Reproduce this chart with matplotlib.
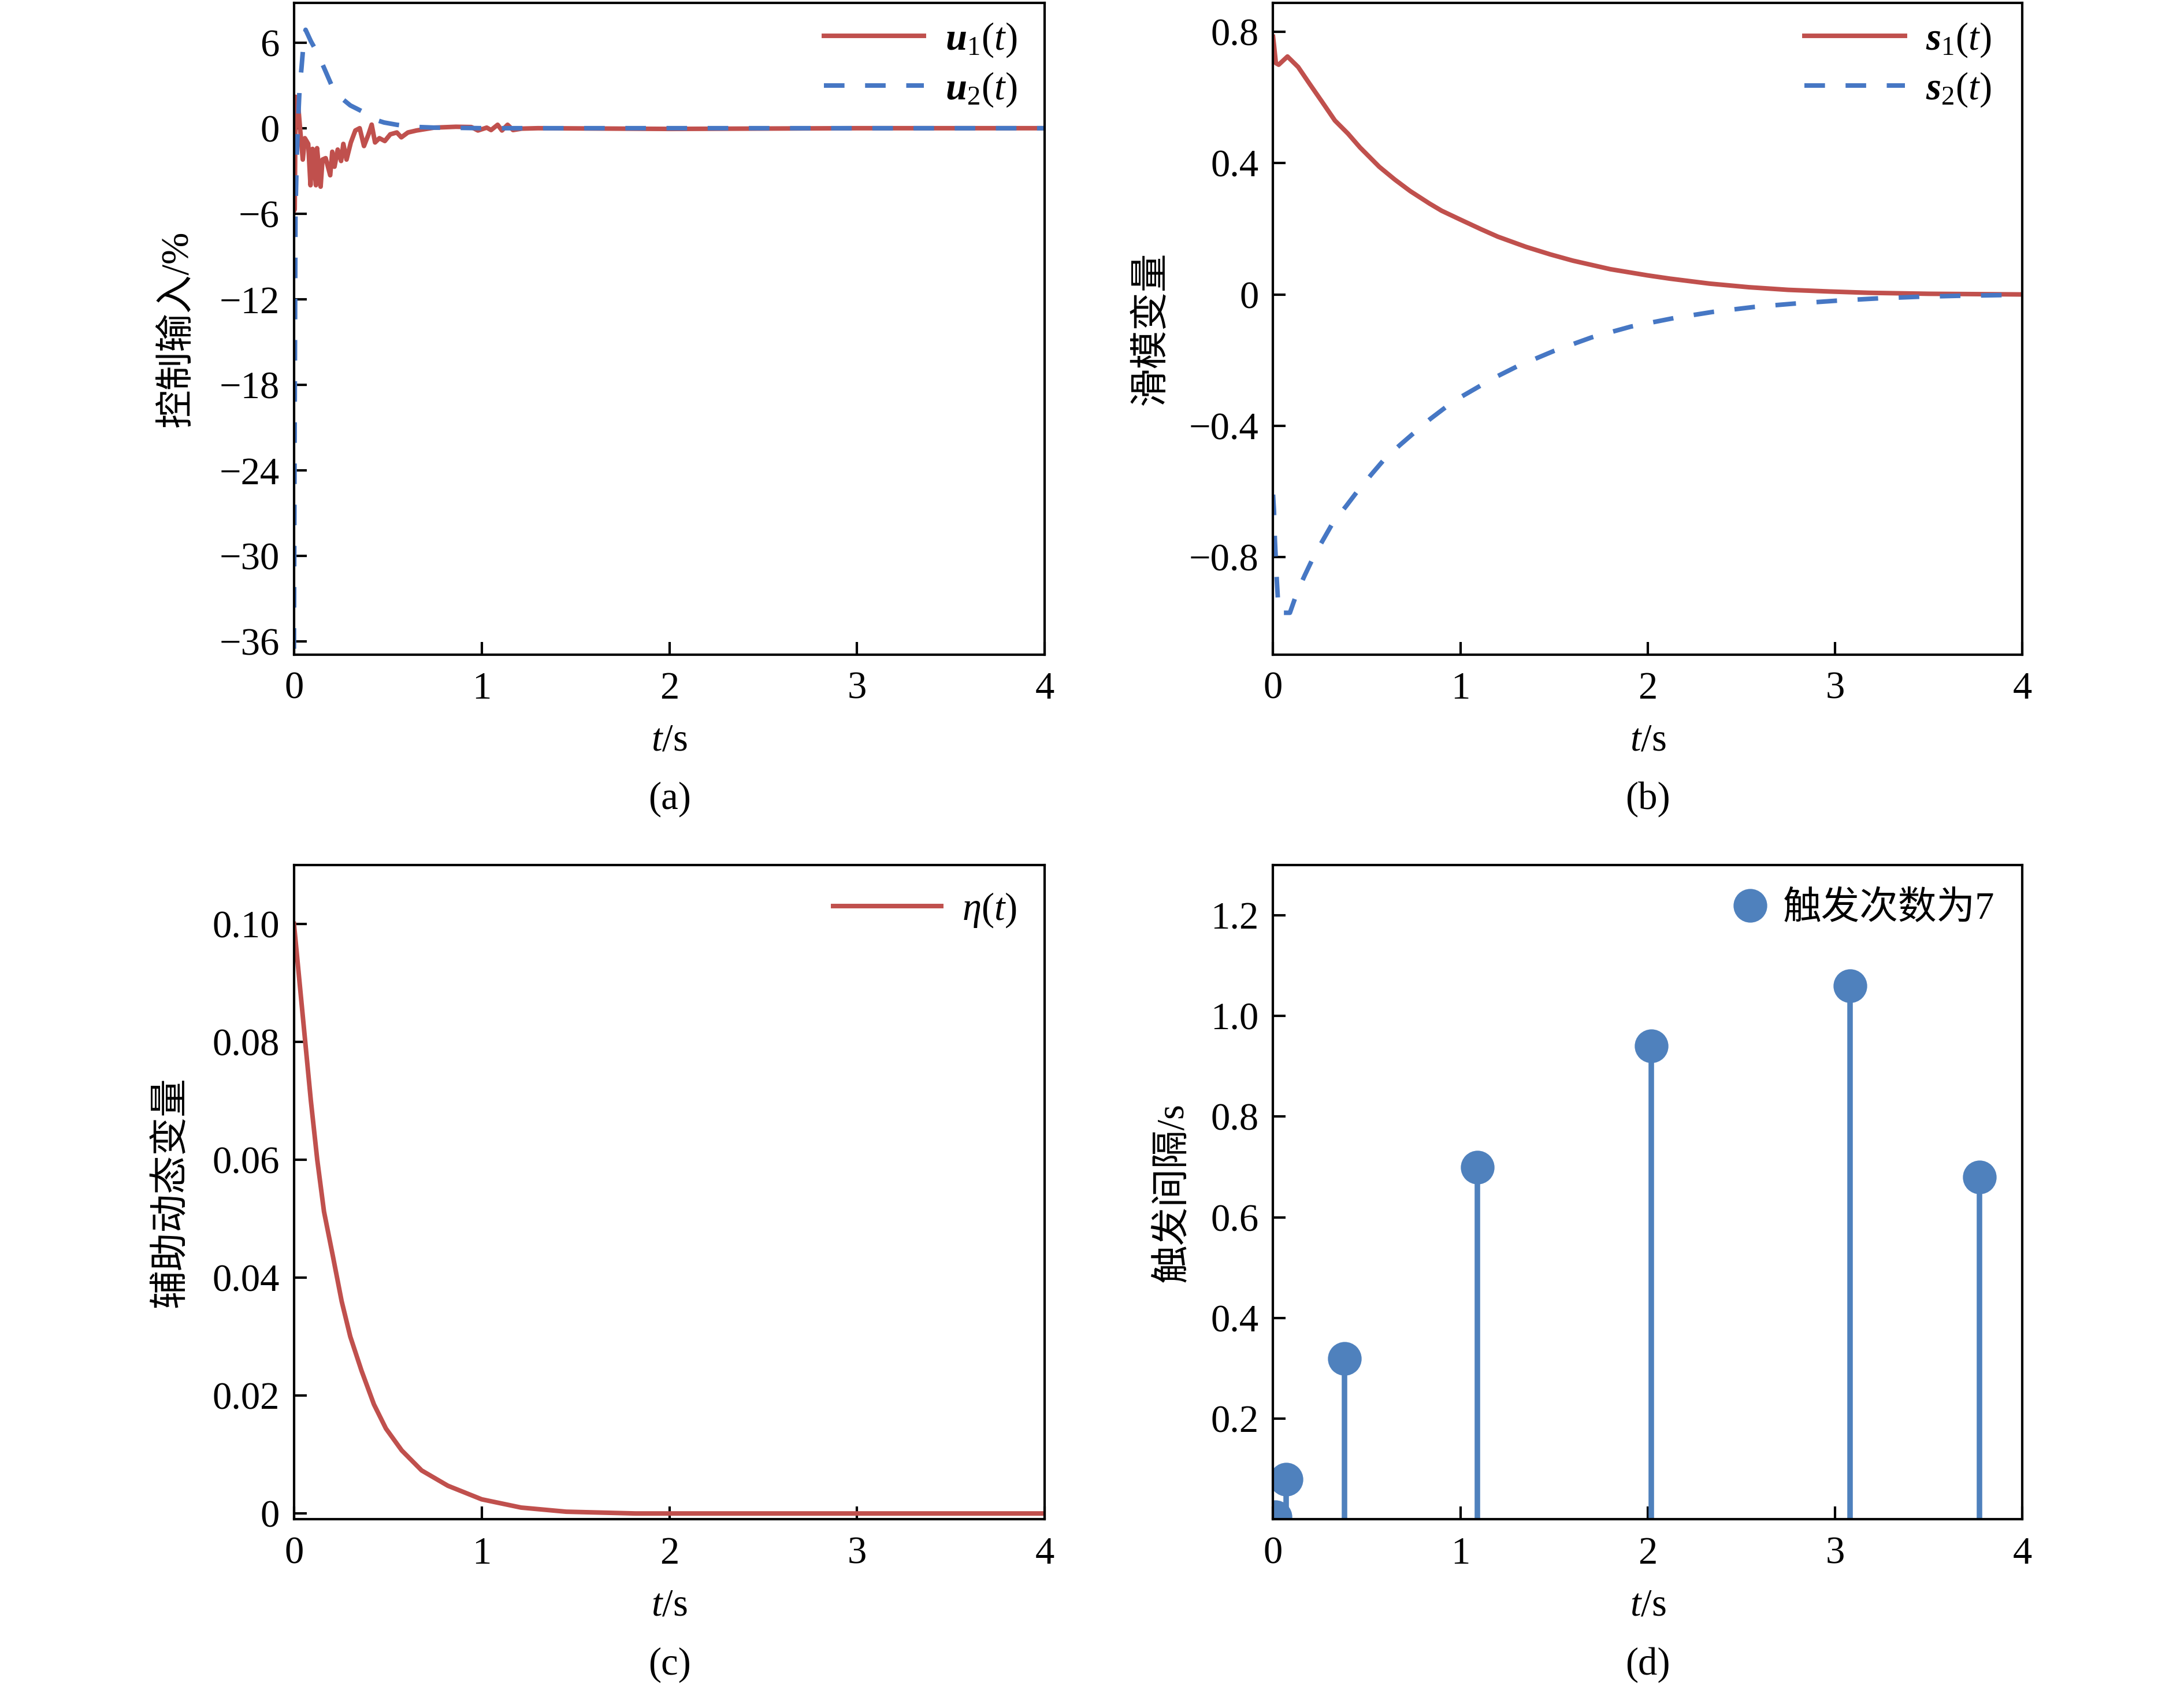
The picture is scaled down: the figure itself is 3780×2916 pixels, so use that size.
import matplotlib
matplotlib.use("Agg")
import matplotlib.pyplot as plt

# ---- values ----
# (a) control inputs
t_u1 = [0.0, 0.004, 0.009, 0.023, 0.035, 0.047, 0.058, 0.076, 0.088, 0.099, 0.117,
        0.123, 0.142, 0.152, 0.169, 0.193, 0.204, 0.216, 0.233, 0.251, 0.263, 0.28,
        0.303, 0.327, 0.35, 0.373, 0.397, 0.414, 0.432, 0.455, 0.484, 0.513, 0.548,
        0.572, 0.607, 0.653, 0.747, 0.863, 0.945, 0.98, 1.027, 1.05, 1.085, 1.108,
        1.138, 1.167, 1.213, 1.3, 2.0, 3.0, 4.0]
u1 = [-5.8, -5.7, 2.2, 1.5, -0.4, -2.2, -0.7, -1.1, -4.0, -1.45, -4.0,
      -1.4, -4.1, -2.2, -2.1, -3.3, -1.65, -2.7, -1.5, -2.3, -1.1, -2.2,
      -1.0, -0.16, 0.0, -1.25, -0.43, 0.25, -1.0, -0.7, -0.9, -0.43, -0.3,
      -0.64, -0.3, -0.16, 0.04, 0.1, 0.08, -0.16, 0.04, -0.13, 0.24, -0.16,
      0.24, -0.13, -0.03, 0.0, -0.05, 0.0, 0.0]
t_u2 = [0.0, 0.004, 0.008, 0.015, 0.022, 0.03, 0.04, 0.05, 0.062, 0.09, 0.117,
        0.158, 0.204, 0.263, 0.3, 0.36, 0.42, 0.48, 0.548, 0.63, 0.75, 0.9, 1.0, 4.0]
u2 = [-36.5, -20.0, -6.0, -2.0, 0.5, 2.8, 4.2, 5.8, 6.9, 6.1, 5.46,
      4.3, 2.9, 2.0, 1.6, 1.2, 0.65, 0.4, 0.24, 0.1, 0.04, 0.02, 0.0, 0.0]

# (b) sliding variables
t_s1 = [0.0, 0.005, 0.015, 0.03, 0.077, 0.134, 0.196, 0.258, 0.33, 0.4, 0.464,
        0.567, 0.65, 0.732, 0.835, 0.9, 1.0, 1.113, 1.2, 1.35, 1.48, 1.6, 1.8,
        2.0, 2.12, 2.33, 2.54, 2.75, 2.97, 3.18, 3.5, 4.0]
s1 = [0.785, 0.76, 0.705, 0.70, 0.725, 0.693, 0.641, 0.59, 0.53, 0.49, 0.448,
      0.389, 0.35, 0.315, 0.277, 0.255, 0.228, 0.198, 0.176, 0.145, 0.122, 0.103, 0.077,
      0.058, 0.048, 0.033, 0.022, 0.014, 0.009, 0.005, 0.002, 0.0]
t_s2 = [0.0, 0.005, 0.01, 0.02, 0.03, 0.09, 0.13, 0.17, 0.22, 0.27, 0.32, 0.39,
        0.45, 0.53, 0.59, 0.675, 0.76, 0.84, 0.93, 1.01, 1.11, 1.195, 1.30, 1.40,
        1.5, 1.7, 1.91, 2.14, 2.35, 2.57, 2.78, 3.01, 3.23, 3.45, 3.67, 3.89, 4.0]
s2 = [-0.61, -0.66, -0.75, -0.87, -0.97, -0.97, -0.905, -0.855, -0.795, -0.745, -0.695, -0.645,
      -0.60, -0.545, -0.505, -0.46, -0.418, -0.379, -0.34, -0.31, -0.277, -0.25, -0.22, -0.196,
      -0.172, -0.131, -0.098, -0.072, -0.053, -0.038, -0.028, -0.019, -0.012, -0.007, -0.004, -0.002, 0.0]

# (c) auxiliary dynamic variable
t_eta = [0.0, 0.03, 0.06, 0.09, 0.124, 0.16, 0.207, 0.254, 0.30, 0.36, 0.426, 0.49,
         0.574, 0.68, 0.82, 1.0, 1.21, 1.45, 1.82, 2.5, 4.0]
eta = [0.100, 0.090, 0.080, 0.070, 0.060, 0.0512, 0.0437, 0.036, 0.030, 0.0242, 0.0185, 0.0144,
       0.0107, 0.0073, 0.0047, 0.0024, 0.001, 0.0003, 0.0, 0.0, 0.0]

# (d) triggering instants and intervals
trig_t = [0.01, 0.07, 0.38, 1.09, 2.02, 3.08, 3.77]
trig_dt = [0.005, 0.08, 0.32, 0.70, 0.94, 1.06, 0.68]

xticks = [0, 1, 2, 3, 4]
a_yticks = [6, 0, -6, -12, -18, -24, -30, -36]
b_yticks = [0.8, 0.4, 0, -0.4, -0.8]
b_ylabels = ["0.8", "0.4", "0", "\u22120.4", "\u22120.8"]
c_yticks = [0.10, 0.08, 0.06, 0.04, 0.02, 0]
c_ylabels = ["0.10", "0.08", "0.06", "0.04", "0.02", "0"]
d_yticks = [0.2, 0.4, 0.6, 0.8, 1.0, 1.2]
d_ylabels = ["0.2", "0.4", "0.6", "0.8", "1.0", "1.2"]

RED = "#C0504D"
BLUE = "#4677C4"
STEM = "#4F81BD"
FS = 16

plt.rcParams["font.family"] = ["Liberation Serif", "Noto Sans CJK SC"]
plt.rcParams["font.size"] = FS
plt.rcParams["mathtext.fontset"] = "custom"
plt.rcParams["mathtext.rm"] = "Liberation Serif"
plt.rcParams["mathtext.it"] = "Liberation Serif:italic"
plt.rcParams["mathtext.bf"] = "Liberation Serif:italic:bold"
plt.rcParams["axes.linewidth"] = 1.0

fig = plt.figure(figsize=(12.6, 9.72), dpi=300)
ax_a = fig.add_axes([0.1346, 0.6116, 0.3438, 0.3868])
ax_b = fig.add_axes([0.5829, 0.6116, 0.3431, 0.3868])
ax_c = fig.add_axes([0.1346, 0.0983, 0.3438, 0.3884])
ax_d = fig.add_axes([0.5829, 0.0983, 0.3431, 0.3884])

DASH = (0, (4.5, 4.5))
LW = 1.9

ax_a.plot(t_u1, u1, color=RED, lw=LW, label=r"$\mathbf{u}_1(t)$")
ax_a.plot(t_u2, u2, color=BLUE, lw=LW, ls=DASH, label=r"$\mathbf{u}_2(t)$")
ax_a.set_ylim(-36.9, 8.8)
ax_a.set_yticks(a_yticks)

ax_b.plot(t_s1, s1, color=RED, lw=LW, label=r"$\mathbf{s}_1(t)$")
ax_b.plot(t_s2, s2, color=BLUE, lw=LW, ls=DASH, label=r"$\mathbf{s}_2(t)$")
ax_b.set_ylim(-1.097, 0.889)
ax_b.set_yticks(b_yticks)
ax_b.set_yticklabels(b_ylabels)

ax_c.plot(t_eta, eta, color=RED, lw=LW, label=r"$\eta(t)$")
ax_c.set_ylim(-0.001, 0.11)
ax_c.set_yticks(c_yticks)
ax_c.set_yticklabels(c_ylabels)

ax_d.vlines(trig_t, 0, trig_dt, color=STEM, lw=2.3)
ax_d.plot(trig_t, trig_dt, "o", ms=13, color=STEM, label="触发次数为7")
ax_d.set_ylim(0, 1.3)
ax_d.set_yticks(d_yticks)
ax_d.set_yticklabels(d_ylabels)

ylabels = ["控制输入/%", "滑模变量", "辅助动态变量", "触发间隔/s"]
ylab_x = [-0.132, -0.1375, -0.139, -0.11]
captions = ["(a)", "(b)", "(c)", "(d)"]

for ax, yl, yx, cap in zip([ax_a, ax_b, ax_c, ax_d], ylabels, ylab_x, captions):
    ax.set_xlim(0, 4)
    ax.set_xticks(xticks)
    ax.tick_params(direction="in", length=5.3, width=1.0, labelsize=FS,
                   top=False, right=False)
    ax.tick_params(axis="y", pad=6)
    ax.tick_params(axis="x", pad=7)
    ax.set_xlabel(r"$t$/s", fontsize=FS)
    ax.xaxis.set_label_coords(0.5, -0.105)
    ax.set_ylabel(yl, fontsize=FS)
    ax.yaxis.set_label_coords(yx, 0.5)
    ax.text(0.5, -0.222, cap, transform=ax.transAxes, ha="center", va="center",
            fontsize=FS)

leg_kw = dict(frameon=False, fontsize=FS, loc="upper right", borderaxespad=0,
              borderpad=0, handletextpad=0.55)
ax_a.legend(bbox_to_anchor=(0.963, 0.972), handlelength=2.6, labelspacing=0.3, **leg_kw)
ax_b.legend(bbox_to_anchor=(0.959, 0.972), handlelength=2.6, labelspacing=0.3, **leg_kw)
ax_c.legend(bbox_to_anchor=(0.963, 0.96), handlelength=2.8, **leg_kw)
leg_kw["handletextpad"] = 0.35
ax_d.legend(bbox_to_anchor=(0.963, 0.96), handlelength=1.0, numpoints=1, **leg_kw)

fig.savefig("out.png", dpi=300)
